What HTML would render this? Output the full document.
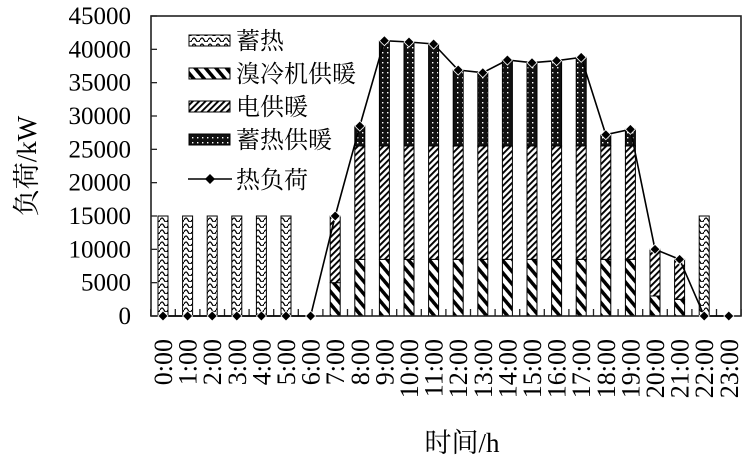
<!DOCTYPE html>
<html><head><meta charset="utf-8"><style>
html,body{margin:0;padding:0;background:#fff;}
svg{display:block;font-family:"Liberation Serif","Noto Serif CJK SC",serif;}
</style></head><body>
<svg id="s" width="749" height="466" viewBox="0 0 749 466" xmlns="http://www.w3.org/2000/svg">
<defs>
<pattern id="pStore" width="8" height="6" patternUnits="userSpaceOnUse"><rect width="8" height="6" fill="#fff"/><path d="M0 4 Q2 0 4 4 Q6 8 8 4" stroke="#000" stroke-width="1.3" fill="none"/></pattern>
<pattern id="pChill" width="8" height="8" patternUnits="userSpaceOnUse" patternTransform="rotate(-40)"><rect width="8" height="8" fill="#fff"/><rect width="3.5" height="8" fill="#000"/></pattern>
<pattern id="pElec" width="4.5" height="4.5" patternUnits="userSpaceOnUse" patternTransform="rotate(45)"><rect width="4.5" height="4.5" fill="#fff"/><rect width="1.9" height="4.5" fill="#000"/></pattern>
<pattern id="pSup" width="5" height="5" patternUnits="userSpaceOnUse"><rect width="5" height="5" fill="#111"/><rect x="2" y="2" width="1.4" height="1.4" fill="#fff"/></pattern>
</defs>
<g id="g"></g>
</svg>
<script>
var g=document.getElementById('g'),h='';
var Y=function(v){return 316-v*300/45000;};
var X=function(i){return 163+i*24.6;};
var load=[0,0,0,0,0,0,0,15000,28500,41300,41100,40800,36900,36500,38400,38000,38300,38800,27200,28000,10000,8500,0,0];
var ch=[0,0,0,0,0,0,0,5000,8500,8500,8500,8500,8500,8500,8500,8500,8500,8500,8500,8500,3000,2500,0,0];
var el=[0,0,0,0,0,0,0,10000,17000,17000,17000,17000,17000,17000,17000,17000,17000,17000,17000,17000,7000,6000,0,0];
function rect(x,y1,y2,f){return '<rect x="'+(x-5)+'" y="'+y2+'" width="10" height="'+(y1-y2)+'" fill="url(#'+f+')" stroke="#000" stroke-width="1"/>';}
for(var i=0;i<24;i++){
 var x=X(i);
 if(i<6||i==22){h+=rect(x,Y(0),Y(15000),'pStore');}
 else if(load[i]>0){
  var a=ch[i],b=a+el[i];
  h+=rect(x,Y(0),Y(a),'pChill');
  h+=rect(x,Y(a),Y(b),'pElec');
  if(load[i]>b)h+=rect(x,Y(b),Y(load[i]),'pSup');
 }
}
h+='<rect x="151" y="16" width="590" height="300" fill="none" stroke="#222" stroke-width="1.6"/>';
for(var k=0;k<=9;k++){var y=Y(k*5000);h+='<line x1="151" y1="'+y+'" x2="157" y2="'+y+'" stroke="#222" stroke-width="1.3"/>';
 h+='<text x="131" y="'+(y+8)+'" font-size="25" text-anchor="end">'+(k*5000)+'</text>';}
for(var i=0;i<=24;i++){var x=X(i)-12.3;h+='<line x1="'+x+'" y1="316" x2="'+x+'" y2="309" stroke="#222" stroke-width="1.3"/>';}
var pts=[];for(var i=0;i<24;i++)pts.push(X(i)+','+Y(load[i]));
h+='<polyline points="'+pts.join(' ')+'" fill="none" stroke="#000" stroke-width="1.6"/>';
for(var i=0;i<24;i++){var x=X(i),y=Y(load[i]);h+='<path d="M'+x+' '+(y-5)+'L'+(x+5)+' '+y+'L'+x+' '+(y+5)+'L'+(x-5)+' '+y+'Z" fill="#000" stroke="#fff" stroke-width="0.8"/>';}
for(var i=0;i<24;i++){var x=X(i)+9;h+='<text transform="translate('+x+',339) rotate(-90)" font-size="26" text-anchor="end">'+i+':00</text>';}
var L=[['pStore','蓄热'],['pChill','溴冷机供暖'],['pElec','电供暖'],['pSup','蓄热供暖']];
for(var j=0;j<4;j++){var y=40+j*33;h+='<rect x="189" y="'+(y-5)+'" width="41" height="11" fill="url(#'+L[j][0]+')" stroke="#000" stroke-width="1"/>';
 h+='<text x="236" y="'+(y+9)+'" font-size="24" font-family="Noto Serif CJK SC,serif">'+L[j][1]+'</text>';}
h+='<line x1="188" y1="179" x2="232" y2="179" stroke="#000" stroke-width="1.6"/><path d="M210 174L215 179L210 184L205 179Z" fill="#000"/>';
h+='<text x="236" y="188" font-size="24" font-family="Noto Serif CJK SC,serif">热负荷</text>';
h+='<text transform="translate(36,166) rotate(-90)" font-size="27" text-anchor="middle"><tspan font-family="Noto Serif CJK SC,serif">负荷</tspan>/kW</text>';
h+='<text x="462" y="452" font-size="27" text-anchor="middle"><tspan font-family="Noto Serif CJK SC,serif">时间</tspan>/h</text>';
g.innerHTML=h;
</script>
</body></html>
